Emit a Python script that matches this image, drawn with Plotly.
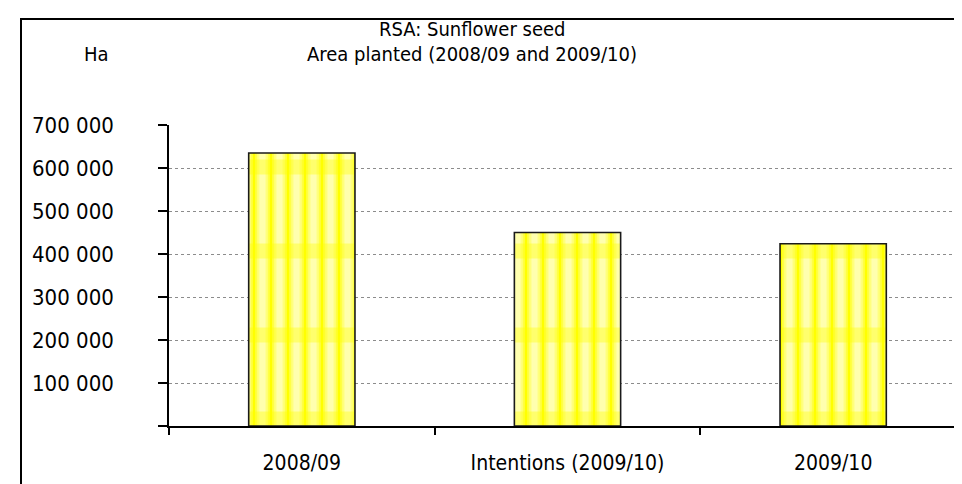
import plotly.graph_objects as go

categories = ["2008/09", "Intentions (2009/10)", "2009/10"]
area_ha = [635000, 450000, 424000]
y_ticks = [0, 100000, 200000, 300000, 400000, 500000, 600000, 700000]
y_tick_labels = ["", "100 000", "200 000", "300 000", "400 000", "500 000", "600 000", "700 000"]
title_lines = ["RSA: Sunflower seed", "Area planted (2008/09 and 2009/10)"]
y_unit = "Ha"

FONT = "DejaVu Sans Condensed, Tahoma, Liberation Sans, sans-serif"
W, H = 962, 484
L, R, T, B = 161, 4, 117, 66
pw, ph = W - L - R, H - T - B

def px_x(x):
    return (x - L) / pw

def px_y(y):
    return (H - B - y) / ph

fig = go.Figure()
# base yellow fill
fig.add_trace(go.Bar(x=categories, y=area_ha, width=0.4,
                     marker=dict(color="#FFFF00", line=dict(width=0)),
                     hoverinfo="x+y"))
# layered white stripes imitating the vertical gradient
for alpha, sol in [(0.55, 0.86), (0.6, 0.62), (0.75, 0.36)]:
    fig.add_trace(go.Bar(x=categories, y=area_ha, width=0.4,
                         marker=dict(color="rgba(0,0,0,0)", line=dict(width=0),
                                     pattern=dict(shape="|", fgcolor=f"rgba(255,255,255,{alpha})",
                                                  size=17, solidity=sol, fillmode="overlay")),
                         hoverinfo="skip"))
# horizontal yellow bands
fig.add_trace(go.Bar(x=categories, y=area_ha, width=0.4,
                     marker=dict(color="rgba(0,0,0,0)", line=dict(width=0),
                                 pattern=dict(shape="-", fgcolor="rgba(255,255,0,0.75)",
                                              size=84, solidity=0.18, fillmode="overlay")),
                     hoverinfo="skip"))
# outline
fig.add_trace(go.Bar(x=categories, y=area_ha, width=0.4,
                     marker=dict(color="rgba(0,0,0,0)", line=dict(color="#1a1a1a", width=1.6)),
                     hoverinfo="skip"))

fig.update_layout(
    width=W, height=H,
    margin=dict(l=L, r=R, t=T, b=B),
    paper_bgcolor="white",
    plot_bgcolor="white",
    showlegend=False,
    barmode="overlay",
    font=dict(family=FONT, size=21, color="black"),
)

fig.update_xaxes(
    type="category",
    showline=True, linecolor="black", linewidth=1.5,
    ticks="outside", tickson="boundaries", ticklen=7, tickcolor="black", tickwidth=1.5,
    showgrid=False,
    tickfont=dict(size=21),
    ticklabelstandoff=17,
)
fig.update_yaxes(
    range=[0, 700000],
    tickvals=y_ticks, ticktext=y_tick_labels,
    showline=True, linecolor="black", linewidth=1.5,
    ticks="outside", ticklen=9, tickcolor="black", tickwidth=1.5,
    showgrid=True, gridcolor="#8c8c8c", gridwidth=1, griddash="dot",
    tickfont=dict(size=22),
    ticklabelstandoff=40,
    zeroline=False,
)

# right border of plot area
fig.add_shape(type="line", xref="paper", yref="paper", x0=1, x1=1, y0=0, y1=1,
              line=dict(color="#8c8c8c", width=2))
# outer chart frame
fig.add_shape(type="rect", xref="paper", yref="paper",
              x0=px_x(13), x1=px_x(975), y0=px_y(500), y1=px_y(11),
              line=dict(color="black", width=2), fillcolor="rgba(0,0,0,0)", layer="below")

fig.add_annotation(text=title_lines[0], xref="paper", yref="paper",
                   x=px_x(464), y=px_y(21), showarrow=False, font=dict(size=20),
                   xanchor="center", yanchor="middle")
fig.add_annotation(text=title_lines[1], xref="paper", yref="paper",
                   x=px_x(464), y=px_y(46), showarrow=False, font=dict(size=20),
                   xanchor="center", yanchor="middle")
fig.add_annotation(text=y_unit, xref="paper", yref="paper",
                   x=px_x(88), y=px_y(46), showarrow=False, font=dict(size=20),
                   xanchor="center", yanchor="middle")

fig.write_html("out.html")
